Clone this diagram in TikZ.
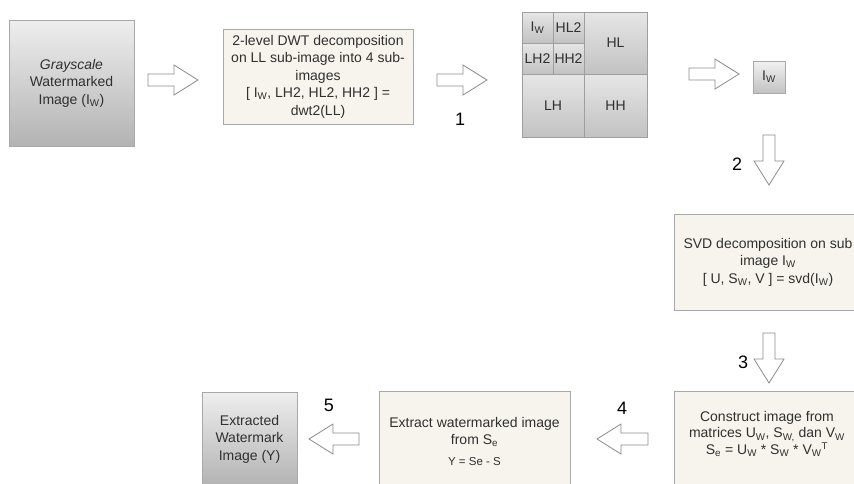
\documentclass[tikz,border=0pt]{standalone}
\usepackage{fontspec}
\setmainfont{Liberation Sans}
\definecolor{cream}{HTML}{F6F4EC}
\definecolor{edge}{HTML}{A8A8A8}
\definecolor{txt}{HTML}{303030}
\definecolor{arr}{HTML}{8C8C8C}
\definecolor{gtop}{HTML}{EEEEEE}
\definecolor{gbot}{HTML}{B3B3B3}
\definecolor{ctop}{HTML}{E6E6E6}
\definecolor{cbot}{HTML}{C2C2C2}
\definecolor{cline}{HTML}{9E9E9E}
\newcommand\blockarrow[3]{\draw[barrow, shift={#1}, rotate=#2] (0,-6) -- ({#3-24},-6) -- ({#3-24},-15) -- (#3,0) -- ({#3-24},15) -- ({#3-24},6) -- (0,6) -- cycle;}
\begin{document}
\begin{tikzpicture}[x=1pt,y=-1pt, font=\fontsize{14}{17.5}\selectfont, text=txt,
  gbox/.style={draw=edge, top color=gtop, bottom color=gbot, align=center, inner sep=0pt},
  cbox/.style={draw=edge, fill=cream, align=center, inner sep=0pt, line width=0.8pt},
  cell/.style={draw=cline, top color=ctop, bottom color=cbot, inner sep=0pt, align=center},
  num/.style={font=\fontsize{18}{20}\selectfont, text=black},
  barrow/.style={draw=arr, fill=white, line width=0.8pt}]
\useasboundingbox (0,0) rectangle (854,483);
\fill[white] (0,0) rectangle (854,483);
\clip (0,0) rectangle (854,483);

% boxes
\node[gbox, minimum width=125pt, minimum height=126pt] (gray) at (71.5,83)
  {\textit{Grayscale}\\Watermarked\\Image (I\textsubscript{W})};
\node[cbox, minimum width=190pt, minimum height=95pt] (dwt) at (318,76.5)
  {2-level DWT decomposition\\on LL sub-image into 4 sub-\\images\\{}[ I\textsubscript{W}, LH2, HL2, HH2 ] =\\dwt2(LL)};

% DWT grid
\node[cell, minimum width=31pt, minimum height=31pt] (c1) at (537.5,27.5) {I\textsubscript{W}};
\node[cell, minimum width=31pt, minimum height=31pt] (c2) at (568.5,27.5) {HL2};
\node[cell, minimum width=31pt, minimum height=31pt] (c3) at (537.5,58.5) {LH2};
\node[cell, minimum width=31pt, minimum height=31pt] (c4) at (568.5,58.5) {HH2};
\node[cell, minimum width=63pt, minimum height=62pt] (hl) at (615.5,43) {HL};
\node[cell, minimum width=62pt, minimum height=63pt] (lh) at (553,105.5) {LH};
\node[cell, minimum width=63pt, minimum height=63pt] (hh) at (615.5,105.5) {HH};

\node[gbox, minimum width=32pt, minimum height=32pt, top color=gtop!80!white, bottom color=cbot] (iw) at (769,77) {I\textsubscript{W}};

\node[cbox, minimum width=188pt, minimum height=96pt] (svd) at (768,262)
  {SVD decomposition on sub\\image I\textsubscript{W}\\{}[ U, S\textsubscript{W}, V ] = svd(I\textsubscript{W})};

\node[cbox, minimum width=188pt, minimum height=110pt, anchor=north] (cons) at (768,391) {};
\node[align=center, font=\fontsize{14}{16.5}\selectfont] (ctext) at (767,434)
  {Construct image from\\matrices U\textsubscript{W}, S\textsubscript{W,} dan V\textsubscript{W}\\S\textsubscript{e} = U\textsubscript{W} * S\textsubscript{W} * V\textsubscript{W}\textsuperscript{T}};

\node[cbox, minimum width=191pt, minimum height=100pt] (ext) at (474.5,441)
  {Extract watermarked image\\from S\textsubscript{e}\\[3pt]{\fontsize{11.5}{14}\selectfont Y = Se - S}};

\node[gbox, minimum width=95pt, minimum height=94pt] (out) at (249.5,439)
  {Extracted\\Watermark\\Image (Y)};

% block arrows
\blockarrow{(148,80)}{0}{50}
\blockarrow{(437,80)}{0}{50}
\blockarrow{(689,74)}{0}{50}
\blockarrow{(769,135)}{-90}{50}
\blockarrow{(769,333)}{-90}{50}
\blockarrow{(648,439)}{180}{51}
\blockarrow{(359,439)}{180}{50}

% step numbers
\node[num] (n1) at (460,119) {1};
\node[num] (n2) at (737,164) {2};
\node[num] (n3) at (743,362) {3};
\node[num] (n4) at (622,408) {4};
\node[num] (n5) at (329,405) {5};
\end{tikzpicture}
\end{document}
